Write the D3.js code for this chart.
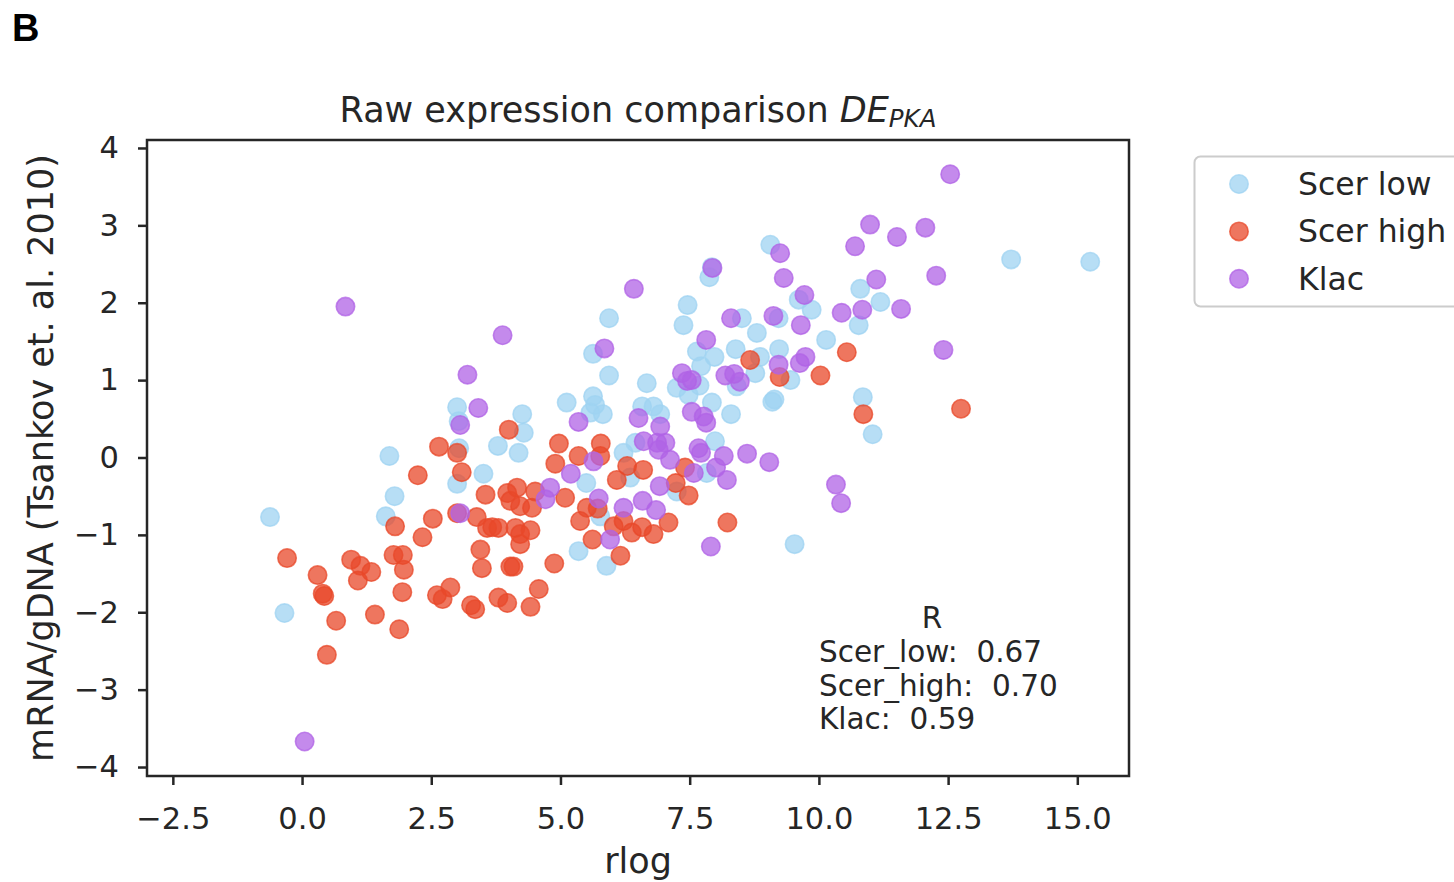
<!DOCTYPE html>
<html>
<head>
<meta charset="utf-8">
<script src="https://cdn.jsdelivr.net/npm/d3@7"></script>
<style>
  body { margin: 0; background: #fff; }
  text { font-family: "DejaVu Sans", sans-serif; fill: #262626; }
</style>
</head>
<body>
<svg id="chart" width="1454" height="882"></svg>
<script>
// values, [rlog, mRNA/gDNA]
var scerLow = [
  [-0.62, -0.77], [-0.34, -2.01], [1.62, -0.76], [1.79, -0.50], [1.69, 0.02],
  [3.00, 0.65], [3.03, 0.47], [3.04, 0.12], [3.00, -0.34], [3.51, -0.21],
  [3.79, 0.15], [4.19, 0.06], [4.26, 0.56], [4.29, 0.32], [5.12, 0.71],
  [5.63, 0.79], [5.67, 0.68], [5.58, 0.58], [5.82, 0.56], [5.63, 1.34],
  [5.94, 1.80], [5.94, 1.06], [6.58, 0.66], [6.80, 0.66], [6.93, 0.56],
  [6.67, 0.96], [6.22, 0.06], [6.45, 0.19], [5.50, -0.33], [6.35, -0.26],
  [5.77, -0.76], [5.35, -1.21], [5.89, -1.40], [7.25, -0.44], [7.83, -0.20],
  [7.99, 0.21], [7.46, 1.97], [7.38, 1.71], [7.64, 1.37], [7.98, 1.30],
  [7.72, 1.18], [7.25, 0.90], [7.69, 0.93], [7.48, 0.81], [7.93, 0.71],
  [8.30, 0.56], [7.93, 2.46], [7.88, 2.33], [8.39, 1.40], [8.41, 0.92],
  [8.51, 1.80], [8.80, 1.61], [8.86, 1.30], [8.77, 1.09], [9.06, 2.75],
  [9.22, 1.80], [9.23, 1.40], [9.45, 1.00], [9.14, 0.75], [9.10, 0.72],
  [9.61, 2.04], [9.86, 1.91], [10.14, 1.52], [10.77, 1.71], [10.80, 2.18],
  [11.19, 2.01], [10.85, 0.78], [11.04, 0.30], [13.72, 2.56], [15.25, 2.53],
  [9.53, -1.12]
];

var scerHigh = [
  [-0.29, -1.30], [0.30, -1.52], [0.40, -1.76], [0.43, -1.79], [0.66, -2.11],
  [0.48, -2.55], [0.95, -1.32], [1.13, -1.40], [1.34, -1.48], [1.08, -1.59],
  [1.41, -2.03], [1.77, -1.26], [1.95, -1.26], [1.97, -1.45], [1.94, -1.74],
  [1.88, -2.22], [1.80, -0.89], [2.24, -0.23], [2.33, -1.03], [2.53, -0.79],
  [2.65, 0.14], [3.00, 0.06], [3.09, -0.19], [3.00, -0.72], [3.38, -0.77],
  [3.58, -0.91], [3.55, -0.48], [2.61, -1.78], [2.72, -1.83], [2.87, -1.68],
  [3.27, -1.91], [3.35, -1.96], [3.45, -1.19], [3.48, -1.43], [4.00, 0.36],
  [3.97, -0.46], [4.03, -0.56], [4.16, -0.39], [4.22, -0.63], [4.45, -0.65],
  [4.51, -0.44], [3.68, -0.90], [3.80, -0.91], [4.13, -0.91], [4.22, -0.99],
  [4.42, -0.94], [4.22, -1.12], [4.03, -1.41], [4.09, -1.41], [4.88, -1.37],
  [4.58, -1.70], [3.80, -1.81], [3.97, -1.88], [4.42, -1.93], [4.97, 0.18],
  [4.90, -0.08], [5.09, -0.52], [5.35, 0.02], [5.78, 0.18], [5.77, 0.02],
  [5.51, -0.65], [5.38, -0.82], [5.72, -0.66], [5.62, -1.06], [6.03, -0.89],
  [6.22, -0.82], [6.38, -0.97], [6.58, -0.90], [6.80, -0.99], [7.09, -0.84],
  [6.16, -1.27], [6.09, -0.29], [6.29, -0.11], [6.60, -0.16], [7.23, -0.33],
  [7.41, -0.13], [7.48, -0.49], [8.23, -0.84], [8.67, 1.26], [9.24, 1.04],
  [10.03, 1.06], [10.54, 1.36], [10.86, 0.56], [12.75, 0.63]
];

var klac = [
  [0.84, 1.95], [0.05, -3.67], [3.20, 1.07], [3.41, 0.64], [3.06, 0.42],
  [3.06, -0.72], [3.88, 1.58], [5.85, 1.41], [5.35, 0.46], [6.42, 2.18],
  [6.51, 0.51], [6.93, 0.40], [6.61, 0.21], [6.87, 0.19], [7.03, 0.19],
  [6.90, 0.10], [5.64, -0.05], [5.20, -0.21], [4.80, -0.39], [4.71, -0.54],
  [5.74, -0.53], [6.22, -0.65], [5.96, -1.06], [6.92, -0.37], [6.59, -0.56],
  [6.85, -0.68], [7.12, -0.03], [7.58, -0.20], [7.67, 0.12], [7.72, 0.06],
  [7.54, 0.59], [7.77, 0.53], [7.82, 0.45], [7.82, 1.52], [7.35, 1.09],
  [7.45, 0.99], [7.54, 1.00], [8.01, -0.13], [8.16, 0.02], [8.22, -0.29],
  [8.61, 0.05], [9.04, -0.06], [7.91, -1.15], [7.94, 2.45], [8.30, 1.80],
  [8.19, 1.06], [8.36, 1.08], [8.47, 0.98], [9.25, 2.64], [9.32, 2.32],
  [9.72, 2.10], [9.12, 1.83], [9.65, 1.71], [9.22, 1.20], [9.63, 1.22],
  [9.74, 1.30], [10.33, -0.35], [10.43, -0.59], [10.44, 1.87], [10.84, 1.91],
  [10.70, 2.73], [10.99, 3.01], [11.11, 2.30], [11.51, 2.85], [11.59, 1.92],
  [12.06, 2.97], [12.27, 2.35], [12.41, 1.39], [12.54, 3.66]
];

var seriesNames = ["Scer low", "Scer high", "Klac"];
var seriesColors = ["#9fd3f2", "#e8482a", "#b063e6"];
var xTicks = [-2.5, 0, 2.5, 5, 7.5, 10, 12.5, 15];
var yTicks = [-4, -3, -2, -1, 0, 1, 2, 3, 4];
var corrLabels = ["Scer_low:  0.67", "Scer_high:  0.70", "Klac:  0.59"];

var svg = d3.select("#chart");
var plotLeft = 147, plotRight = 1129, plotTop = 140, plotBottom = 776;

var x = d3.scaleLinear()
  .domain([-3, 16])
  .range([plotLeft, plotRight]);
var y = d3.scaleLinear()
  .domain([-4.116, 4.103])
  .range([plotBottom, plotTop]);

// panel letter
svg.append("text")
  .attr("x", 12)
  .attr("y", 41)
  .style("font-family", "'Liberation Sans', Arial, sans-serif")
  .style("font-weight", "bold")
  .style("font-size", "38px")
  .style("fill", "#000")
  .text("B");

// points, drawn in series order so Klac sits on top
var all = [scerLow, scerHigh, klac];
all.forEach(function(pts, i) {
  svg.append("g").selectAll("circle")
    .data(pts)
    .enter().append("circle")
    .attr("cx", function(d) { return x(d[0]); })
    .attr("cy", function(d) { return y(d[1]); })
    .attr("r", 9.2)
    .attr("fill", seriesColors[i])
    .attr("fill-opacity", 0.75)
    .attr("stroke", seriesColors[i])
    .attr("stroke-opacity", 0.75)
    .attr("stroke-width", 1.6);
});

// frame
svg.append("rect")
  .attr("x", plotLeft)
  .attr("y", plotTop)
  .attr("width", plotRight - plotLeft)
  .attr("height", plotBottom - plotTop)
  .attr("fill", "none")
  .attr("stroke", "#262626")
  .attr("stroke-width", 2.5);

var xAxis = d3.axisBottom(x)
  .tickValues(xTicks)
  .tickFormat(d3.format(".1f"))
  .tickSizeInner(9)
  .tickSizeOuter(0)
  .tickPadding(22);
var gx = svg.append("g")
  .attr("transform", "translate(0," + plotBottom + ")")
  .call(xAxis);

var yAxis = d3.axisLeft(y)
  .tickValues(yTicks)
  .tickFormat(d3.format("d"))
  .tickSizeInner(9)
  .tickSizeOuter(0)
  .tickPadding(19);
var gy = svg.append("g")
  .attr("transform", "translate(" + plotLeft + ",0)")
  .call(yAxis);

[gx, gy].forEach(function(g) {
  g.select(".domain").remove();
  g.selectAll(".tick line").attr("stroke", "#262626").attr("stroke-width", 2.5);
  g.selectAll(".tick text")
    .style("font-family", "'DejaVu Sans', sans-serif")
    .style("font-size", "30.5px")
    .attr("fill", "#262626");
});

// axis labels and title
svg.append("text")
  .attr("x", (plotLeft + plotRight) / 2)
  .attr("y", 873)
  .attr("text-anchor", "middle")
  .style("font-size", "35px")
  .text("rlog");

svg.append("text")
  .attr("transform", "translate(53," + (plotTop + plotBottom) / 2 + ") rotate(-90)")
  .attr("text-anchor", "middle")
  .style("font-size", "35px")
  .text("mRNA/gDNA (Tsankov et. al. 2010)");

var title = svg.append("text")
  .attr("x", (plotLeft + plotRight) / 2)
  .attr("y", 122)
  .attr("text-anchor", "middle")
  .style("font-size", "35px");
title.append("tspan").text("Raw expression comparison ");
title.append("tspan").style("font-style", "italic").text("DE");
title.append("tspan")
  .style("font-style", "italic")
  .style("font-size", "24.5px")
  .attr("dy", 5)
  .text("PKA");

// correlation box
svg.append("text")
  .attr("x", 932)
  .attr("y", 628)
  .attr("text-anchor", "middle")
  .style("font-size", "29.5px")
  .text("R");
svg.selectAll(".corr")
  .data(corrLabels)
  .enter().append("text")
  .attr("class", "corr")
  .attr("x", 819)
  .attr("y", function(d, i) { return 662 + i * 33.6; })
  .style("font-size", "29.5px")
  .style("white-space", "pre")
  .attr("xml:space", "preserve")
  .text(function(d) { return d; });

// legend
var legend = svg.append("g");
legend.append("rect")
  .attr("x", 1194.5)
  .attr("y", 156.5)
  .attr("width", 300)
  .attr("height", 150)
  .attr("rx", 6)
  .attr("fill", "#fff")
  .attr("stroke", "#cccccc")
  .attr("stroke-width", 2);
seriesNames.forEach(function(name, i) {
  var cy = 184 + i * 47.4;
  legend.append("circle")
    .attr("cx", 1239)
    .attr("cy", cy)
    .attr("r", 9.2)
    .attr("fill", seriesColors[i])
    .attr("fill-opacity", 0.75)
    .attr("stroke", seriesColors[i])
    .attr("stroke-opacity", 0.75)
    .attr("stroke-width", 1.6);
  legend.append("text")
    .attr("x", 1298)
    .attr("y", cy + 11)
    .style("font-size", "31.5px")
    .text(name);
});
</script>
</body>
</html>
